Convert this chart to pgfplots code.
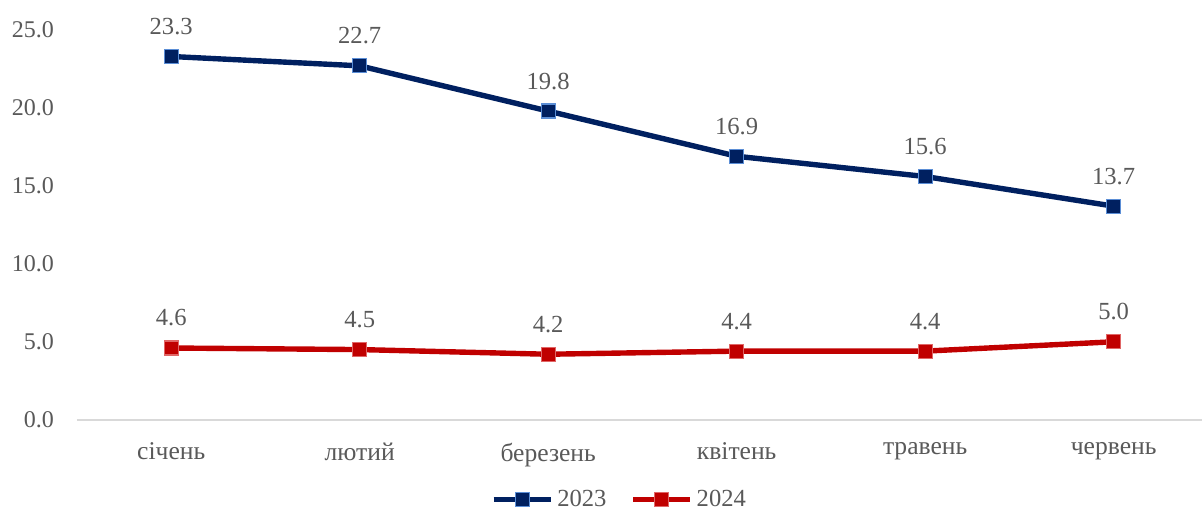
\documentclass[border=0pt]{standalone}
\usepackage{pgfplots}
\pgfplotsset{compat=1.18}
\usepackage{fontspec}
\setmainfont{Liberation Serif}
\definecolor{navy}{HTML}{002060}
\definecolor{navyedge}{HTML}{5B8ED6}
\definecolor{dred}{HTML}{C00000}
\definecolor{redge}{HTML}{E06666}
\definecolor{txt}{HTML}{595959}
\definecolor{axl}{HTML}{D9D9D9}
\begin{document}
\begin{tikzpicture}
\begin{axis}[
  scale only axis, width=563pt, height=195pt,
  xmin=-0.5, xmax=5.47, ymin=0, ymax=25,
  clip=false,
  separate axis lines,
  axis x line*=bottom, axis y line*=left,
  x axis line style={draw=axl, line width=0.8pt},
  y axis line style={draw=none},
  xtick={0,...,5},
  xticklabels={січень,лютий,березень,квітень,травень,червень},
  ytick={0,5,...,25},
  major tick length=0pt,
  yticklabel style={/pgf/number format/fixed, /pgf/number format/fixed zerofill, /pgf/number format/precision=1, /pgf/number format/assume math mode=true, xshift=-8pt},
  ticklabel style={font=\fontsize{12}{14}\selectfont, text=txt},
  xticklabel style={yshift=-8pt, font=\fontsize{12.8}{14}\selectfont},
  nodes near coords={\pgfmathprintnumber[fixed,fixed zerofill,precision=1,assume math mode=true]{\pgfplotspointmeta}},
  every node near coord/.append style={anchor=center, yshift=15pt, font=\fontsize{12.3}{14}\selectfont, text=txt},
  legend style={at={(0.483,-0.205)}, anchor=center, draw=none, legend columns=2,
    font=\fontsize{12.3}{14}\selectfont, text=txt,
    /tikz/every even column/.append style={column sep=10pt}},
  legend image code/.code={\draw[mark repeat=2, mark phase=2] plot coordinates {(0cm,0cm)(0.5cm,0cm)(1cm,0cm)};},
]
\addplot[navy, line width=2.7pt, mark=square*, mark size=3.5pt,
  mark options={fill=navy, draw=navyedge, line width=0.6pt}]
  coordinates {(0,23.3)(1,22.7)(2,19.8)(3,16.9)(4,15.6)(5,13.7)};
\addlegendentry{2023}
\addplot[dred, line width=2.7pt, mark=square*, mark size=3.5pt,
  mark options={fill=dred, draw=redge, line width=0.6pt}]
  coordinates {(0,4.6)(1,4.5)(2,4.2)(3,4.4)(4,4.4)(5,5.0)};
\addlegendentry{2024}
\end{axis}
\path (current axis.south west) ++(-38.5pt,-46pt);
\path (current axis.north east) ++(0pt,15pt);
\end{tikzpicture}
\end{document}
